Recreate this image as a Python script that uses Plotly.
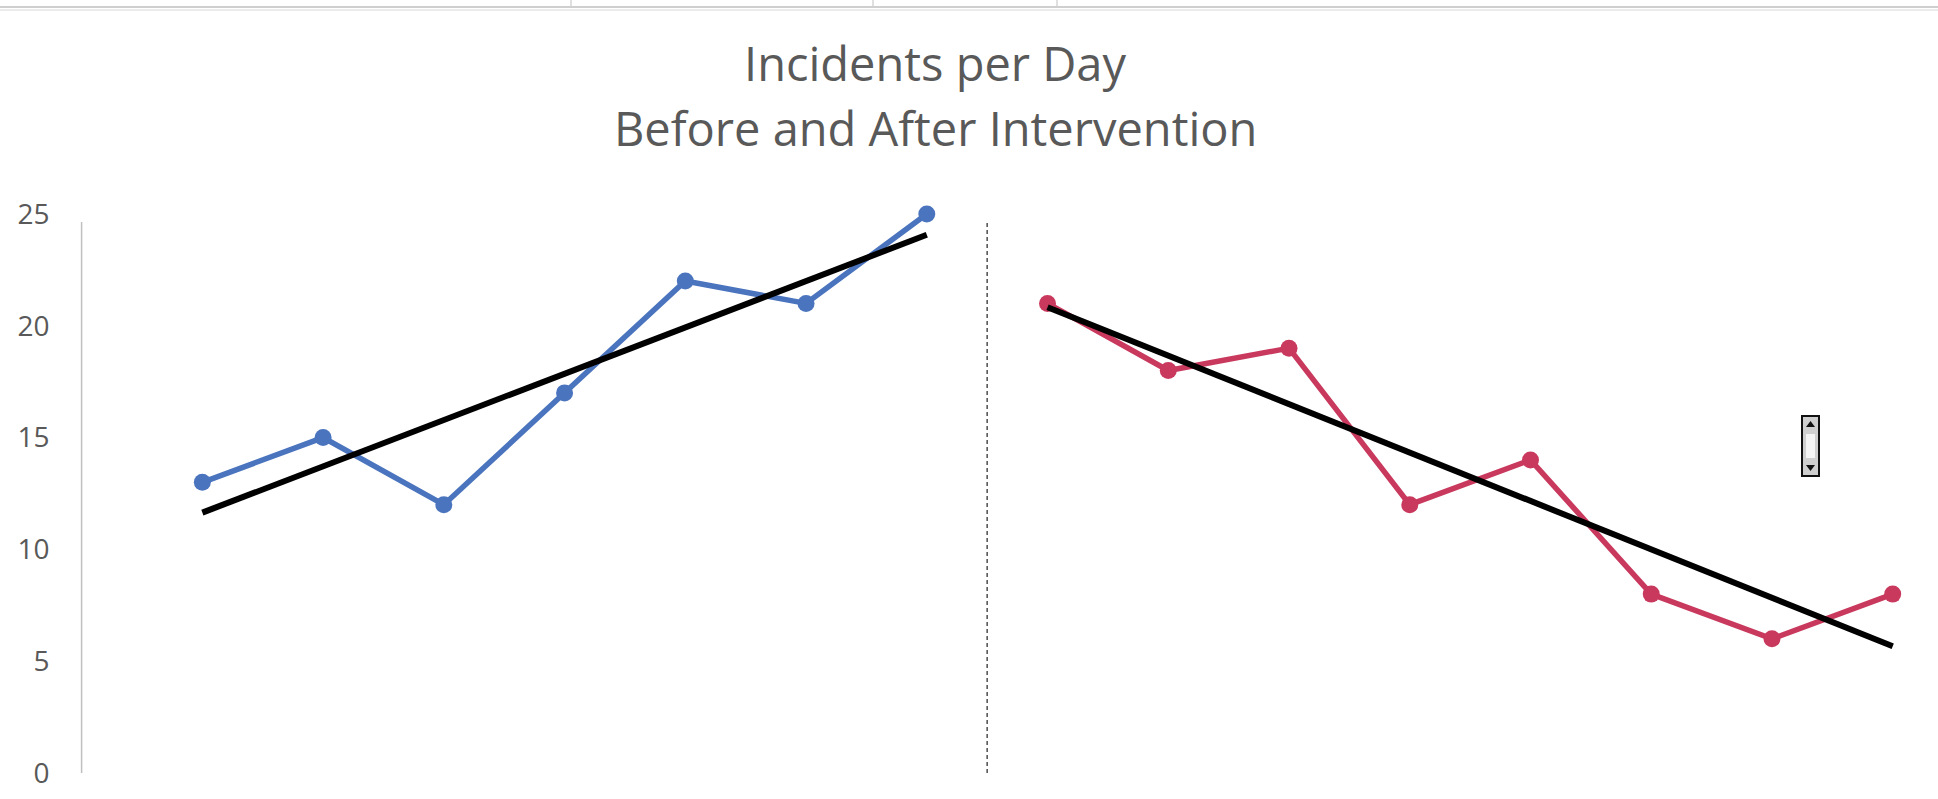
import numpy as np
import plotly.graph_objects as go

# Daily incident counts
before_days = [1, 2, 3, 4, 5, 6, 7]
before_counts = [13, 15, 12, 17, 22, 21, 25]
after_days = [8, 9, 10, 11, 12, 13, 14, 15]
after_counts = [21, 18, 19, 12, 14, 8, 6, 8]
intervention_day = 7.5
y_ticks = [0, 5, 10, 15, 20, 25]

BLUE = "#4A74BE"
RED = "#C9395D"
GREY_TEXT = "#595959"
FONT = "Open Sans"

W, H = 1938, 799


def px_x(p):
    return p / W


def px_y(p):
    return 1 - p / H


def linear_trend(xs, ys):
    slope, intercept = np.polyfit(xs, ys, 1)
    xe = [xs[0], xs[-1]]
    return xe, [slope * x + intercept for x in xe]


fig = go.Figure()

fig.add_trace(go.Scatter(
    x=before_days, y=before_counts, mode="lines+markers", cliponaxis=False,
    line=dict(color=BLUE, width=5.5), marker=dict(color=BLUE, size=17),
    name="Before", showlegend=False, hoverinfo="skip"))
fig.add_trace(go.Scatter(
    x=after_days, y=after_counts, mode="lines+markers", cliponaxis=False,
    line=dict(color=RED, width=5.5), marker=dict(color=RED, size=17),
    name="After", showlegend=False, hoverinfo="skip"))

for xs, ys in [(before_days, before_counts), (after_days, after_counts)]:
    tx, ty = linear_trend(xs, ys)
    fig.add_trace(go.Scatter(
        x=tx, y=ty, mode="lines", cliponaxis=False, line=dict(color="#000000", width=6),
        showlegend=False, hoverinfo="skip"))

shapes = [
    # value axis line
    dict(type="line", xref="paper", yref="paper", x0=px_x(81.6), x1=px_x(81.6),
         y0=px_y(773), y1=px_y(222), line=dict(color="#bfbfbf", width=1.5)),
    # intervention divider
    dict(type="line", xref="x", yref="paper", x0=intervention_day, x1=intervention_day,
         y0=px_y(773), y1=px_y(220), line=dict(color="#4d4d4d", width=1.5, dash="4px,3px")),
    # worksheet gridline strip along the top
    dict(type="line", xref="paper", yref="paper", x0=0, x1=1, y0=px_y(7), y1=px_y(7),
         line=dict(color="#cfcfcf", width=2)),
    dict(type="line", xref="paper", yref="paper", x0=0, x1=1, y0=px_y(10), y1=px_y(10),
         line=dict(color="#ececec", width=2)),
]
for vx in [571, 873, 1057]:
    shapes.append(dict(type="line", xref="paper", yref="paper", x0=px_x(vx), x1=px_x(vx),
                       y0=px_y(0), y1=px_y(6), line=dict(color="#d6d6d6", width=1.5)))

# small spin control
sx0, sx1, sy0, sy1 = 1802, 1819, 416, 476
shapes += [
    dict(type="rect", xref="paper", yref="paper", x0=px_x(sx0), x1=px_x(sx1),
         y0=px_y(sy1), y1=px_y(sy0), line=dict(color="#111111", width=2), fillcolor="#cfcfcf"),
    dict(type="rect", xref="paper", yref="paper", x0=px_x(sx0 + 4), x1=px_x(sx1 - 4),
         y0=px_y(sy1 - 18), y1=px_y(sy0 + 18), line=dict(width=0), fillcolor="#f4f4f4"),
    dict(type="path", xref="paper", yref="paper",
         path=f"M {px_x(sx0 + 4)} {px_y(sy0 + 11)} L {px_x(sx1 - 4)} {px_y(sy0 + 11)} "
              f"L {px_x((sx0 + sx1) / 2)} {px_y(sy0 + 5)} Z",
         line=dict(width=0), fillcolor="#111111"),
    dict(type="path", xref="paper", yref="paper",
         path=f"M {px_x(sx0 + 4)} {px_y(sy1 - 11)} L {px_x(sx1 - 4)} {px_y(sy1 - 11)} "
              f"L {px_x((sx0 + sx1) / 2)} {px_y(sy1 - 5)} Z",
         line=dict(width=0), fillcolor="#111111"),
]

annotations = [
    dict(text="Incidents per Day", xref="paper", yref="paper", x=px_x(935), y=px_y(63),
         xanchor="center", yanchor="middle", showarrow=False,
         font=dict(family=FONT, size=47, color=GREY_TEXT)),
    dict(text="Before and After Intervention", xref="paper", yref="paper", x=px_x(935),
         y=px_y(128), xanchor="center", yanchor="middle", showarrow=False,
         font=dict(family=FONT, size=47, color=GREY_TEXT)),
]

fig.update_layout(
    width=W, height=H,
    margin=dict(l=0, r=0, t=0, b=0),
    paper_bgcolor="white", plot_bgcolor="white",
    template="none",
    showlegend=False,
    shapes=shapes,
    annotations=annotations,
    xaxis=dict(domain=[px_x(81.6), 1], range=[0, 15.375], showgrid=False, zeroline=False,
               showline=False, showticklabels=False, ticks="", automargin=False),
    yaxis=dict(domain=[px_y(773), px_y(214)], range=[0, 25], tickvals=y_ticks,
               showgrid=False, zeroline=False, showline=False,
               ticks="", ticklabelstandoff=31, automargin=False,
               tickfont=dict(family=FONT, size=28, color=GREY_TEXT)),
)

fig.write_html("out.html")
